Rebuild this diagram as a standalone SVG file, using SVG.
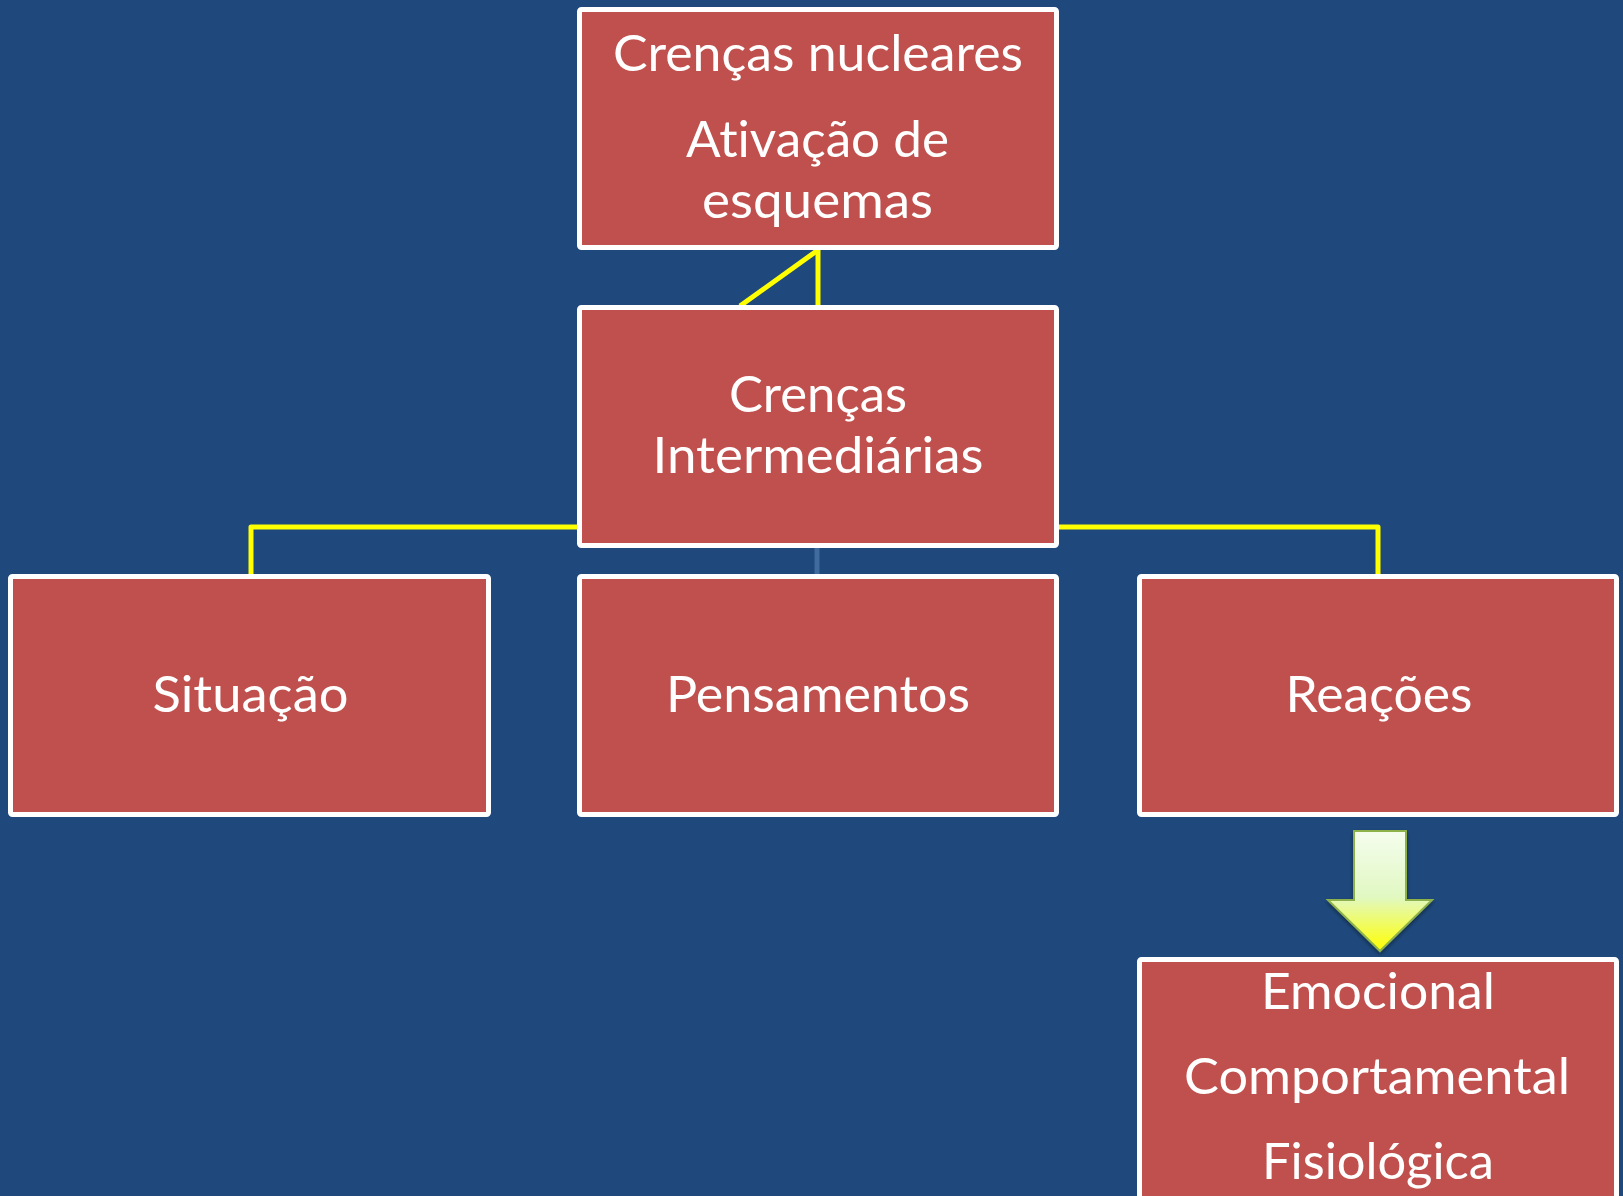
<svg xmlns="http://www.w3.org/2000/svg" width="1623" height="1196" viewBox="0 0 1623 1196">
  <style>
    .box { fill: #C0504D; stroke: #FFFFFF; stroke-width: 5; }
    .lbl { font-family: Lato, "Open Sans", "Liberation Sans", sans-serif; font-size: 50px; fill: #FFFFFF; text-anchor: middle; font-variant-ligatures: none; font-feature-settings: "liga" 0, "clig" 0, "dlig" 0; }
    .conn { fill: none; stroke: #FFFF00; stroke-width: 5; stroke-linejoin: round; }
    .faint { fill: none; stroke: #3F6B9E; stroke-width: 5; }
  </style>
  <defs>
    <linearGradient id="arrowGrad" x1="0" y1="0" x2="0" y2="1">
      <stop offset="0" stop-color="#F5FDEE"/>
      <stop offset="0.55" stop-color="#E1F8C2"/>
      <stop offset="1" stop-color="#FFFF00"/>
    </linearGradient>
    <filter id="shadow" x="-20%" y="-20%" width="140%" height="150%">
      <feGaussianBlur in="SourceAlpha" stdDeviation="2"/>
      <feOffset dx="0" dy="2" result="b"/>
      <feComponentTransfer><feFuncA type="linear" slope="0.45"/></feComponentTransfer>
      <feMerge><feMergeNode/><feMergeNode in="SourceGraphic"/></feMerge>
    </filter>
  </defs>
  <rect x="0" y="0" width="1623" height="1196" fill="#1F497D"/>

  <g id="connectors">
    <line class="conn" x1="818" y1="250" x2="818" y2="306"/>
    <line class="conn" x1="818" y1="250" x2="740" y2="306"/>
    <polyline class="conn" points="578,527 251,527 251,575"/>
    <polyline class="conn" points="1058,527 1378,527 1378,575"/>
    <line class="faint" x1="817" y1="548" x2="817" y2="575"/>
  </g>

  <g id="node-crencas-nucleares">
    <rect class="box" x="579.5" y="9.5" width="477" height="238" rx="2"/>
    <text class="lbl" x="818" y="71" textLength="410" lengthAdjust="spacingAndGlyphs">Crenças nucleares</text>
    <text class="lbl" x="817.5" y="157" textLength="263" lengthAdjust="spacingAndGlyphs">Ativação de</text>
    <text class="lbl" x="817.5" y="218" textLength="231" lengthAdjust="spacingAndGlyphs">esquemas</text>
  </g>

  <g id="node-crencas-intermediarias">
    <rect class="box" x="579.5" y="307.5" width="477" height="238" rx="2"/>
    <text class="lbl" x="818" y="412" textLength="178" lengthAdjust="spacingAndGlyphs">Crenças</text>
    <text class="lbl" x="818" y="473" textLength="331" lengthAdjust="spacingAndGlyphs">Intermediárias</text>
  </g>

  <g id="node-situacao">
    <rect class="box" x="10.5" y="576.5" width="478" height="238" rx="2"/>
    <text class="lbl" x="250.5" y="712" textLength="196" lengthAdjust="spacingAndGlyphs">Situação</text>
  </g>

  <g id="node-pensamentos">
    <rect class="box" x="579.5" y="576.5" width="477" height="238" rx="2"/>
    <text class="lbl" x="818" y="712" textLength="304" lengthAdjust="spacingAndGlyphs">Pensamentos</text>
  </g>

  <g id="node-reacoes">
    <rect class="box" x="1139.5" y="576.5" width="477" height="238" rx="2"/>
    <text class="lbl" x="1379" y="712" textLength="187" lengthAdjust="spacingAndGlyphs">Reações</text>
  </g>

  <g id="arrow-down">
    <path d="M1354,831 L1406,831 L1406,900 L1432,900 L1380,951 L1328,900 L1354,900 Z" fill="url(#arrowGrad)" stroke="#8EB24C" stroke-width="2" stroke-linejoin="miter" filter="url(#shadow)"/>
  </g>

  <g id="node-tipos-reacoes">
    <rect class="box" x="1139.5" y="959.5" width="477" height="260" rx="2"/>
    <text class="lbl" x="1378" y="1009" textLength="234" lengthAdjust="spacingAndGlyphs">Emocional</text>
    <text class="lbl" x="1377" y="1094" textLength="386" lengthAdjust="spacingAndGlyphs">Comportamental</text>
    <text class="lbl" x="1378" y="1179" textLength="232" lengthAdjust="spacingAndGlyphs">Fisiológica</text>
  </g>
</svg>
